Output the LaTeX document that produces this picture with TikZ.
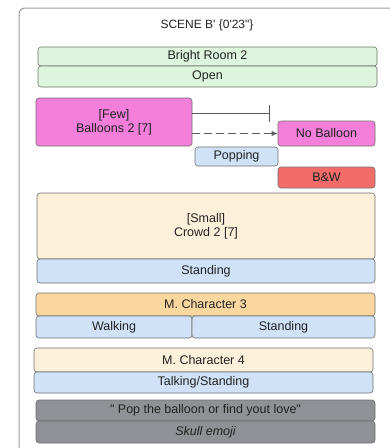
\documentclass[tikz,border=0pt]{standalone}
\usepackage{fontspec}
\newfontfamily\lsans{Liberation Sans}
\usetikzlibrary{arrows.meta}
\definecolor{frameC}{HTML}{9A9A9A}
\definecolor{edgeC}{HTML}{707070}
\definecolor{greenF}{HTML}{DCF5DC}
\definecolor{pinkF}{HTML}{F47FDB}
\definecolor{blueF}{HTML}{CFE2F7}
\definecolor{redF}{HTML}{F26D6A}
\definecolor{creamF}{HTML}{FDF0DA}
\definecolor{orangeF}{HTML}{FBD7A0}
\definecolor{greyF}{HTML}{8F9196}
\definecolor{textC}{HTML}{222222}
\tikzset{
  box/.style={draw=edgeC, line width=0.6pt, rounded corners=3pt, inner sep=0pt,
    align=center, text=textC, font=\lsans\fontsize{12.5}{14}\selectfont},
  conn/.style={draw=edgeC!80!black, line width=0.7pt},
}
\begin{document}
\begin{tikzpicture}[x=1pt,y=-1pt]
\useasboundingbox (0,0) rectangle (389,448);
\fill[white] (0,0) rectangle (389,448);
\draw[frameC, line width=1pt, rounded corners=6pt] (19,8) rectangle (400,460);
\node[text=textC, font=\lsans\fontsize{12}{14}\selectfont] (title) at (207,25) {SCENE B' \{0'23"\}};
\node[box, fill=greenF, minimum width=339pt, minimum height=19pt] (bright) at (207.5,56.5) {Bright Room 2};
\node[box, fill=greenF, minimum width=339pt, minimum height=21pt] (open) at (207.5,76.5) {Open};
\node[box, fill=pinkF, minimum width=156pt, minimum height=48pt] (balloons) at (114,122) {[Few]\\Balloons 2 [7]};
\node[box, fill=pinkF, minimum width=97pt, minimum height=25pt] (noballoon) at (326.5,133.5) {No Balloon};
\node[box, fill=blueF, minimum width=83pt, minimum height=19pt] (popping) at (236.5,156.5) {Popping};
\node[box, fill=redF, minimum width=97pt, minimum height=21pt] (bw) at (326.5,177.5) {B\&W};
\node[box, fill=creamF, minimum width=338pt, minimum height=66pt] (crowd) at (206,226) {[Small]\\Crowd 2 [7]};
\node[box, fill=blueF, minimum width=338pt, minimum height=24pt] (standing1) at (206,271) {Standing};
\node[box, fill=orangeF, minimum width=339pt, minimum height=23pt] (mc3) at (205.5,304.5) {M. Character 3};
\node[box, fill=blueF, minimum width=156pt, minimum height=22pt] (walking) at (114,327) {Walking};
\node[box, fill=blueF, minimum width=183pt, minimum height=22pt] (standing2) at (283.5,327) {Standing};
\node[box, fill=creamF, minimum width=339pt, minimum height=24pt] (mc4) at (203.5,360) {M. Character 4};
\node[box, fill=blueF, minimum width=339pt, minimum height=21pt] (talking) at (203.5,382.5) {Talking/Standing};
\node[box, fill=greyF, minimum width=339pt, minimum height=21pt] (quote) at (205.5,410.5) {" Pop the balloon or find yout love"};
\node[box, fill=greyF, minimum width=339pt, minimum height=22pt] (skull) at (205.5,432) {\itshape Skull emoji};
\coordinate (stop) at (270,113);
\draw[conn, -{Bar[width=17pt]}] (balloons.east |- stop) -- (stop);
\draw[conn, dash pattern=on 8pt off 4pt, -{Latex[length=6pt,width=5pt]}] (balloons.east |- noballoon.west) -- (noballoon.west);
\end{tikzpicture}
\end{document}
